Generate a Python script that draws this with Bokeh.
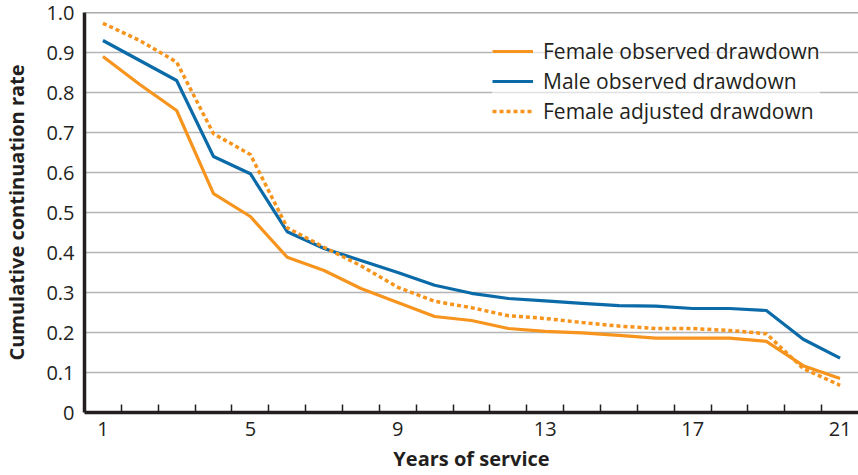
from bokeh.plotting import figure
from bokeh.models import FixedTicker, Span, Legend, LegendItem, ColumnDataSource
from bokeh.embed import file_html
from bokeh.resources import INLINE

years = list(range(1, 22))
female_observed = [0.89, 0.82, 0.755, 0.547, 0.49, 0.388, 0.355, 0.31, 0.275, 0.24, 0.23,
                   0.21, 0.203, 0.199, 0.193, 0.186, 0.186, 0.186, 0.178, 0.117, 0.085]
male_observed = [0.93, 0.88, 0.83, 0.64, 0.597, 0.452, 0.41, 0.38, 0.35, 0.318, 0.298,
                 0.285, 0.279, 0.273, 0.267, 0.266, 0.26, 0.26, 0.255, 0.183, 0.136]
female_adjusted = [0.973, 0.93, 0.876, 0.697, 0.645, 0.462, 0.413, 0.367, 0.313, 0.278, 0.262,
                   0.242, 0.235, 0.225, 0.216, 0.21, 0.21, 0.205, 0.197, 0.11, 0.068]
series_names = ["Female observed drawdown", "Male observed drawdown", "Female adjusted drawdown"]
x_label_ticks = [1, 5, 9, 13, 17, 21]
y_ticks = [0, 0.1, 0.2, 0.3, 0.4, 0.5, 0.6, 0.7, 0.8, 0.9, 1.0]

ORANGE = "#F7941D"
BLUE = "#0B6AA8"
TEXT = "#231F20"
FONT = "Open Sans"

src = ColumnDataSource(dict(x=years, fo=female_observed, mo=male_observed, fa=female_adjusted))

p = figure(width=858, height=475, x_range=(0.5, 21.5), y_range=(0, 1.0),
           output_backend="svg", toolbar_location=None,
           min_border_left=83, min_border_top=12, min_border_right=0, min_border_bottom=63)
p.outline_line_color = None
p.background_fill_color = "white"

# grid
p.xgrid.visible = False
p.ygrid.ticker = FixedTicker(ticks=y_ticks[:-1])
p.ygrid.grid_line_color = "#B5B5B5"
p.ygrid.grid_line_width = 1.5
p.add_layout(Span(location=1.0, dimension="width", line_color="#555555", line_width=1.5))

r1 = p.line("x", "fo", source=src, line_color=ORANGE, line_width=3.2)
r2 = p.line("x", "mo", source=src, line_color=BLUE, line_width=3.2)
r3 = p.line("x", "fa", source=src, line_color=ORANGE, line_width=3.5, line_dash="4 3")

# axes
xa = p.xaxis[0]
xa.ticker = FixedTicker(ticks=x_label_ticks, minor_ticks=[y + 0.5 for y in years[:-1]])
xa.major_tick_in = 0
xa.major_tick_out = 0
xa.minor_tick_in = 8
xa.minor_tick_out = 0
xa.minor_tick_line_color = TEXT
xa.minor_tick_line_width = 1.5
xa.axis_line_color = TEXT
xa.axis_line_width = 3.5
xa.major_label_text_font = FONT
xa.major_label_text_font_size = "20px"
xa.major_label_text_color = TEXT
xa.major_label_standoff = 9
xa.axis_label = "Years of service"
xa.axis_label_text_font = FONT
xa.axis_label_text_font_style = "bold"
xa.axis_label_text_font_size = "20px"
xa.axis_label_text_color = TEXT
xa.axis_label_standoff = 6

ya = p.yaxis[0]
ya.ticker = FixedTicker(ticks=y_ticks)
ya.major_label_overrides = {0: "0", 1.0: "1.0"}
ya.major_tick_in = 0
ya.major_tick_out = 0
ya.minor_tick_line_color = None
ya.axis_line_color = TEXT
ya.axis_line_width = 3.5
ya.major_label_text_font = FONT
ya.major_label_text_font_size = "20px"
ya.major_label_text_color = TEXT
ya.major_label_standoff = 10
ya.axis_label = "Cumulative continuation rate"
ya.axis_label_text_font = FONT
ya.axis_label_text_font_style = "bold"
ya.axis_label_text_font_size = "20px"
ya.axis_label_text_color = TEXT
ya.axis_label_standoff = 13

legend = Legend(items=[LegendItem(label=series_names[0], renderers=[r1]),
                       LegendItem(label=series_names[1], renderers=[r2]),
                       LegendItem(label=series_names[2], renderers=[r3])],
                location=(408, 287))
legend.label_text_font = FONT
legend.label_text_font_size = "21px"
legend.label_text_color = TEXT
legend.glyph_width = 41
legend.glyph_height = 20
legend.label_height = 20
legend.label_standoff = 10
legend.spacing = 2
legend.padding = 10
legend.margin = 0
legend.border_line_color = None
legend.background_fill_color = "white"
legend.background_fill_alpha = 0.6
p.add_layout(legend, "center")

open("out.html", "w").write(file_html(p, INLINE))
